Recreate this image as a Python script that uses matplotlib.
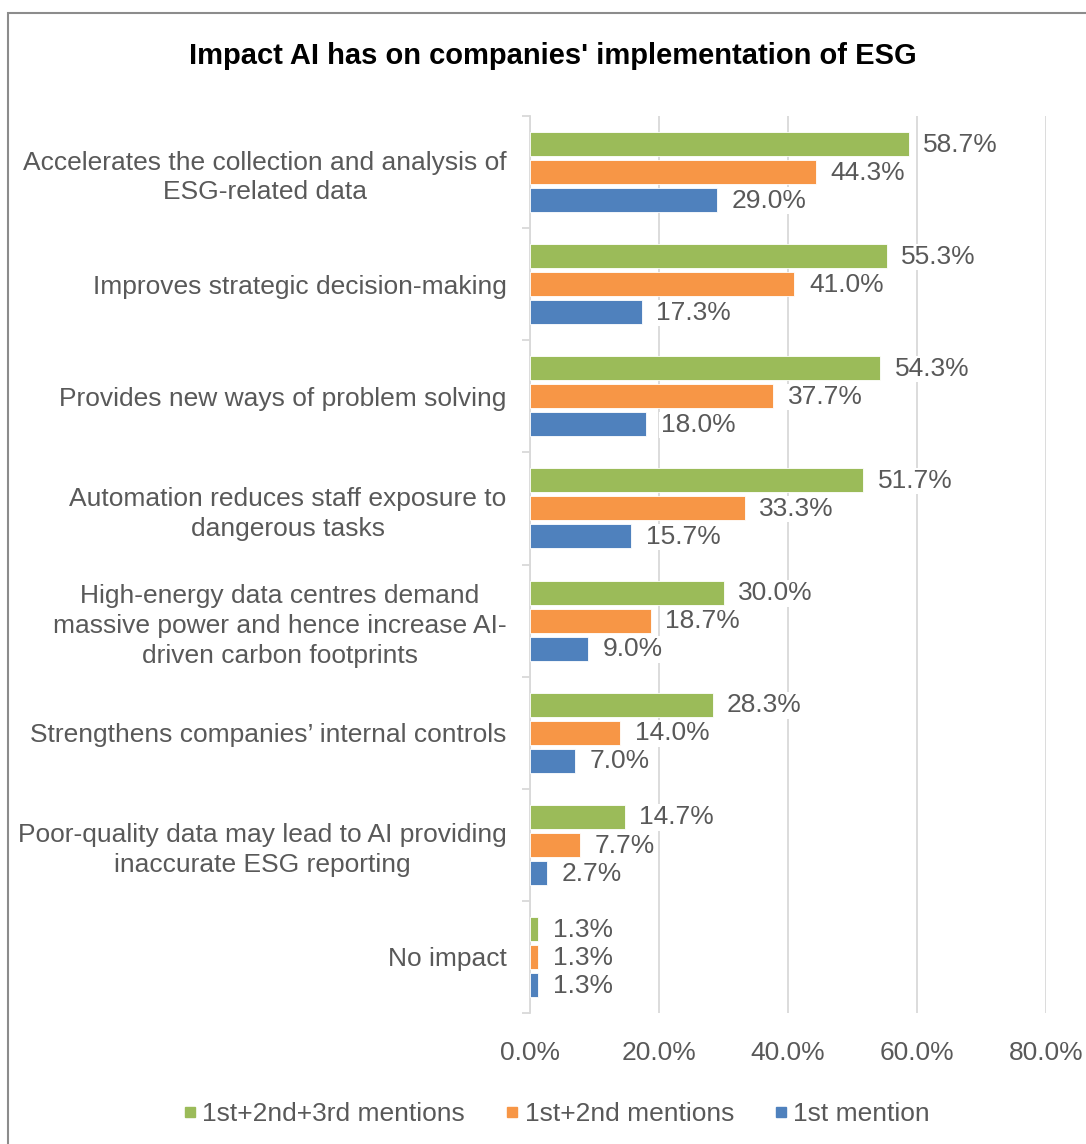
import matplotlib.pyplot as plt
from matplotlib.lines import Line2D
from matplotlib.patches import Rectangle
import numpy as np

plt.rcParams['font.family'] = ['Liberation Sans', 'DejaVu Sans']

categories = [
    "Accelerates the collection and analysis of\nESG-related data",
    "Improves strategic decision-making",
    "Provides new ways of problem solving",
    "Automation reduces staff exposure to\ndangerous tasks",
    "High-energy data centres demand\nmassive power and hence increase AI-\ndriven carbon footprints",
    "Strengthens companies\u2019 internal controls",
    "Poor-quality data may lead to AI providing\ninaccurate ESG reporting",
    "No impact",
]
mentions_123 = [58.7, 55.3, 54.3, 51.7, 30.0, 28.3, 14.7, 1.3]
mentions_12 = [44.3, 41.0, 37.7, 33.3, 18.7, 14.0, 7.7, 1.3]
mentions_1 = [29.0, 17.3, 18.0, 15.7, 9.0, 7.0, 2.7, 1.3]
series_names = ["1st+2nd+3rd mentions", "1st+2nd mentions", "1st mention"]
colors = ["#9BBB59", "#F79646", "#4F81BD"]
xticks = [0, 20, 40, 60, 80]

TXT = "#595959"
GRID = "#D9D9D9"
FS = 19

W, H = 1086, 1144
fig = plt.figure(figsize=(W / 100, H / 100), dpi=100)
ax = fig.add_axes([530 / W, 1 - 1013 / H, 516 / W, (1013 - 116) / H])

n = len(categories)
idx = np.arange(n)
offsets = [0.25, 0.5, 0.75]
bar_h = 0.214
for vals, off, col in zip([mentions_123, mentions_12, mentions_1], offsets, colors):
    bars = ax.barh(idx + off, vals, height=bar_h, color=col, edgecolor='white',
                   linewidth=0.6, zorder=3)
    for b, v in zip(bars, vals):
        ax.annotate(f"{v:.1f}%", (b.get_width(), b.get_y() + b.get_height() / 2),
                    xytext=(10.5, -0.5), textcoords='offset points', va='center', ha='left',
                    fontsize=FS, color=TXT, zorder=4,
                    bbox=dict(boxstyle='square,pad=0.05', fc='white', ec='none'))

ax.set_ylim(n, 0)
ax.set_xlim(0, 80)

# group boundaries as major ticks, category names on minor ticks
ax.set_yticks(np.arange(n + 1))
ax.set_yticklabels([])
ax.set_yticks(idx + 0.5, minor=True)
ax.set_yticklabels(categories, minor=True)
ax.tick_params(axis='y', which='major', length=6, color=GRID, width=1.3)
ax.tick_params(axis='y', which='minor', length=0, pad=17, labelsize=FS, labelcolor=TXT)
for lbl in ax.get_yticklabels(minor=True):
    lbl.set_multialignment('center')
    lbl.set_linespacing(1.3)

ax.set_xticks(xticks)
ax.set_xticklabels([f"{t:.1f}%" for t in xticks])
ax.tick_params(axis='x', length=0, pad=20, labelsize=FS, labelcolor=TXT)
ax.grid(axis='x', color=GRID, linewidth=1.3, zorder=0)
ax.set_axisbelow(True)

for s in ['top', 'right', 'bottom']:
    ax.spines[s].set_visible(False)
ax.spines['left'].set_color(GRID)
ax.spines['left'].set_linewidth(1.3)

fig.text(553 / W, 1 - 56 / H, "Impact AI has on companies' implementation of ESG",
         ha='center', va='center', fontsize=21, fontweight='bold', color='black')

handles = [Line2D([], [], marker='s', ls='', color=c, markersize=7) for c in colors]
fig.legend(handles, series_names, loc='center', bbox_to_anchor=(557 / W, 1 - 1114 / H),
           ncol=3, frameon=False, fontsize=FS, labelcolor=TXT, handlelength=0.45,
           handletextpad=0.25, columnspacing=1.55)

fig.patches.append(Rectangle((7.5 / W, -0.1), 1.2, (1144 - 12.5) / H + 0.1,
                             transform=fig.transFigure, fill=False,
                             edgecolor='#8C8C8C', linewidth=1.5))

fig.savefig('out.png', dpi=100)
